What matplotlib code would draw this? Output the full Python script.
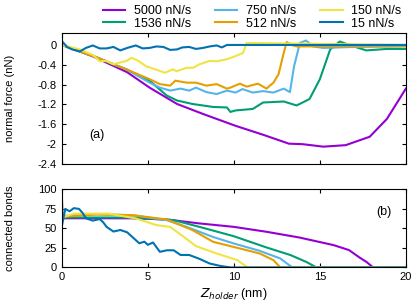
import numpy as np
from matplotlib import pyplot as plt
from matplotlib.ticker import FuncFormatter

plt.rcParams["font.family"] = "Liberation Sans"
plt.rcParams["axes.unicode_minus"] = False

labels = ["5000 nN/s", "1536 nN/s", "750 nN/s", "512 nN/s", "150 nN/s", "15 nN/s"]
colors = ["#9400d3", "#009e73", "#56b4e9", "#e69f00", "#f0e442", "#0072b2"]

# normal force (nN) vs z_holder (nm)
z_5000 = [0, 1.8, 3.8, 5.1, 6.7, 8.2, 10.1, 11.7, 13.2, 14.0, 15.2, 16.5, 17.9, 18.9, 20]
f_5000 = [0, -0.23, -0.55, -0.86, -1.19, -1.39, -1.63, -1.81, -1.99, -2.0, -2.05, -2.02, -1.85, -1.49, -0.88]

z_1536 = [0, 1.8, 3.8, 5.1, 6.1, 6.7, 7.6, 8.8, 9.6, 9.8, 10.1, 11.1, 11.7, 12.9, 13.65, 14.4, 15.0, 15.6, 16.16, 16.7, 17.7, 18.9, 20]
f_1536 = [0, -0.22, -0.5, -0.72, -1.02, -1.12, -1.19, -1.25, -1.26, -1.35, -1.32, -1.29, -1.16, -1.14, -1.22, -1.09, -0.69, -0.09, 0.07, 0.0, -0.11, -0.08, -0.08]

z_750 = [0, 1.8, 3.8, 5.1, 5.7, 6.3, 6.9, 7.4, 7.8, 8.4, 9.0, 9.6, 10.1, 10.5, 11.1, 11.7, 12.3, 12.9, 13.26, 13.5, 13.84, 14.19, 14.6, 15.2, 17, 20]
f_750 = [0, -0.22, -0.5, -0.76, -0.86, -0.92, -0.88, -0.92, -0.86, -0.95, -0.99, -0.92, -0.96, -0.89, -0.96, -0.93, -0.96, -0.88, -0.95, -0.43, 0.04, 0.09, -0.03, -0.06, -0.04, -0.03]

z_512 = [0, 1.8, 3.8, 5.1, 5.7, 6.3, 6.6, 7.25, 7.8, 8.4, 9.0, 9.6, 9.8, 10.35, 10.74, 11.4, 11.9, 12.3, 12.6, 12.9, 13.07, 13.35, 13.65, 20]
f_512 = [0, -0.22, -0.5, -0.69, -0.79, -0.82, -0.72, -0.76, -0.76, -0.82, -0.79, -0.88, -0.86, -0.78, -0.84, -0.78, -0.88, -0.76, -0.59, -0.16, 0.06, 0.0, -0.03, -0.02]

z_150 = [0, 1.05, 1.8, 2.2, 2.6, 3.0, 3.76, 4.05, 4.44, 4.9, 5.5, 5.99, 6.47, 6.67, 7.25, 7.63, 8.0, 8.6, 9.0, 9.57, 10.06, 10.54, 10.6, 10.74, 20]
f_150 = [0, -0.09, -0.2, -0.33, -0.32, -0.39, -0.32, -0.26, -0.32, -0.43, -0.5, -0.56, -0.49, -0.53, -0.46, -0.46, -0.39, -0.32, -0.33, -0.29, -0.23, -0.16, -0.1, 0.04, 0.0]

z_15 = [0, 0.3, 0.6, 1.05, 1.4, 1.8, 2.2, 2.6, 3.0, 3.4, 3.8, 4.3, 4.7, 5.1, 5.5, 5.9, 6.3, 6.7, 7.0, 7.4, 7.8, 8.2, 8.6, 9.0, 9.3, 9.6, 9.7, 20]
f_15 = [0.08, -0.04, -0.09, -0.13, -0.06, -0.01, -0.07, -0.07, -0.04, -0.11, -0.06, -0.01, -0.07, -0.06, -0.03, -0.04, -0.1, -0.09, -0.05, -0.04, -0.08, -0.06, -0.03, -0.01, -0.05, 0.0, 0.0, 0.0]

# connected bonds vs z_holder
b_z_5000 = [0, 0.02, 4.0, 6.1, 8.0, 10.0, 11.9, 13.8, 15.8, 16.7, 17.3, 17.7, 18.1, 20]
b_5000 = [100, 63, 63, 61.5, 56.4, 52, 45.7, 38.4, 28.6, 22.2, 12.8, 7.2, 0, 0]

b_z_1536 = [0, 0.02, 4.1, 6.5, 8.0, 10.0, 11.9, 13.3, 14.2, 14.8, 20]
b_1536 = [100, 64, 64, 60.6, 52, 40, 25.6, 15.8, 7.2, 0, 0]

b_z_750 = [0, 0.02, 2.0, 4.1, 6.1, 7.25, 8.8, 10.0, 11.5, 12.7, 13.4, 20]
b_750 = [100, 66, 68, 67, 60.6, 52, 39, 30.7, 21.3, 11.5, 0, 0]

b_z_512 = [0, 0.02, 2.0, 4.1, 6.1, 7.6, 8.8, 10.35, 11.5, 12.3, 12.7, 20]
b_512 = [100, 65, 68, 67, 61.5, 47.8, 32.8, 24.3, 17.9, 9.4, 0, 0]

b_z_150 = [0, 0.02, 0.7, 2.7, 4.3, 5.5, 6.3, 7.1, 7.8, 9.0, 10.2, 10.8, 20]
b_150 = [100, 64, 69, 69, 62.8, 54.2, 52, 39, 27.3, 17.9, 9.4, 0, 0]

b_z_15 = [0, 0.02, 0.2, 0.45, 0.7, 1.0, 1.2, 1.4, 1.8, 2.2, 2.4, 2.6, 3.0, 3.4, 3.8, 4.1, 4.5, 4.8, 5.0, 5.3, 5.7, 6.1, 6.5, 6.9, 7.4, 8.0, 8.6, 9.2, 9.8, 20]
b_15 = [100, 55, 75, 72, 76, 75, 70, 63, 60, 62, 58, 52, 46, 48, 45, 39, 31, 33, 29, 32, 20, 22, 22, 16, 16, 11, 5, 2, 0, 0]

force_z = [z_5000, z_1536, z_750, z_512, z_150, z_15]
force = [f_5000, f_1536, f_750, f_512, f_150, f_15]
bond_z = [b_z_5000, b_z_1536, b_z_750, b_z_512, b_z_150, b_z_15]
bonds = [b_5000, b_1536, b_750, b_512, b_150, b_15]

fig = plt.figure(figsize=[4.15, 3.06], dpi=100)
ax1 = fig.add_axes([0.149, 0.464, 0.829, 0.428])
ax2 = fig.add_axes([0.149, 0.126, 0.829, 0.255])

for i in range(6):
    ax1.plot(force_z[i], force[i], color=colors[i], lw=1.5, label=labels[i])
    ax2.plot(bond_z[i], bonds[i], color=colors[i], lw=1.5)

fs = 8
for ax in [ax1, ax2]:
    ax.set_xlim(0, 20)
    ax.set_xticks([0, 5, 10, 15, 20])
    ax.tick_params(direction="in", top=True, right=True, labelsize=fs, length=3)

ax1.set_ylim(-2.4, 0.24)
ax1.set_yticks([0, -0.4, -0.8, -1.2, -1.6, -2, -2.4])
ax1.yaxis.set_major_formatter(FuncFormatter(lambda v, p: "%g" % round(v, 2)))
ax1.tick_params(labelbottom=False)
ax1.set_ylabel("normal force (nN)", fontsize=fs)
ax1.yaxis.set_label_coords(-0.135, 0.5)
ax1.text(1.6, -1.82, "(a)", fontsize=fs + 1, va="center")

ax2.set_ylim(0, 100)
ax2.set_yticks([0, 25, 50, 75, 100])
ax2.set_ylabel("connected bonds", fontsize=fs)
ax2.yaxis.set_label_coords(-0.135, 0.5)
ax2.set_xlabel("$Z_{holder}$ (nm)", fontsize=fs + 1, labelpad=3)
ax2.text(18.3, 71, "(b)", fontsize=fs + 1, va="center")

fig.legend(loc="upper right", bbox_to_anchor=(0.995, 1.02), ncol=3, frameon=False,
           fontsize=fs + 1, handlelength=1.8, columnspacing=1.9, labelspacing=0.05,
           handletextpad=0.7)

plt.savefig("out.png", dpi=100)
